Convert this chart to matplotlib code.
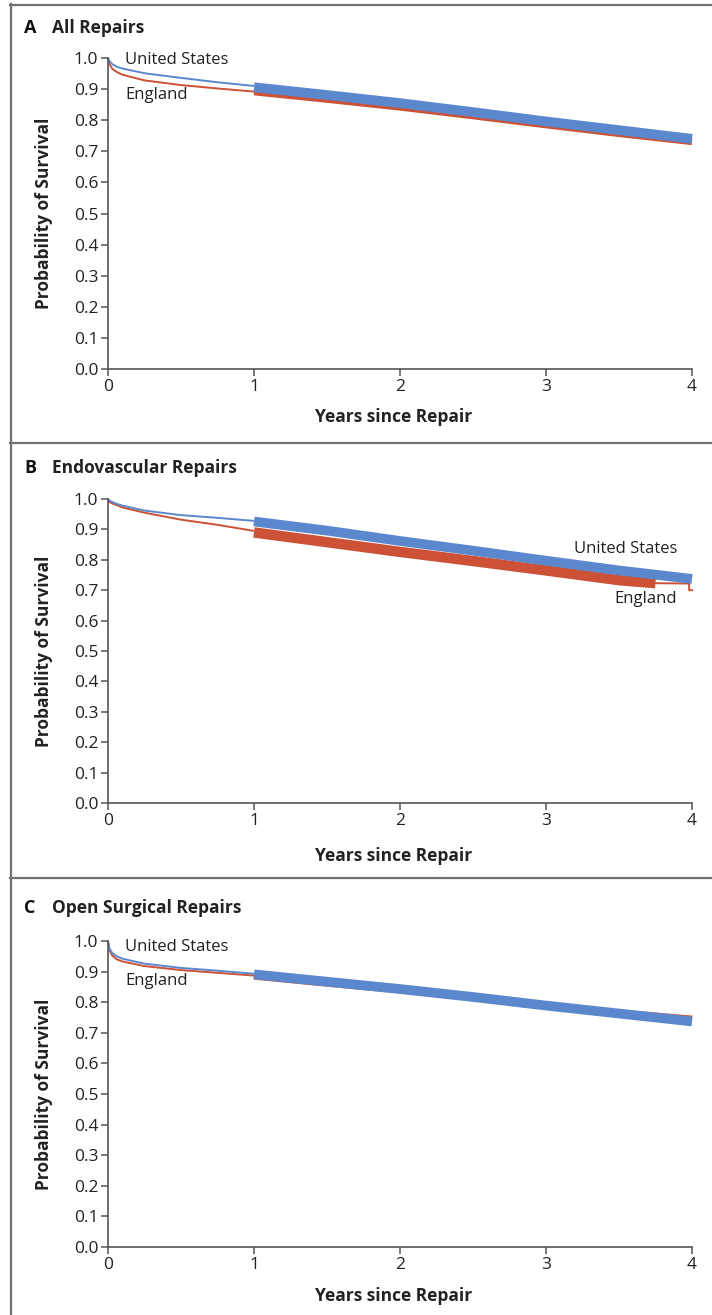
import numpy as np
import matplotlib.pyplot as plt
from matplotlib.lines import Line2D

# survival curves: thin part (0-1 yr), thick censored part (1-4 yr)
t_thin = [0, 0.01, 0.03, 0.06, 0.1, 0.25, 0.5, 0.75, 1.0]
t_thick = [1, 1.5, 2, 2.5, 3, 3.5, 4]

a_us_thin = [1.0, 0.99, 0.98, 0.972, 0.966, 0.951, 0.936, 0.922, 0.91]
a_en_thin = [1.0, 0.98, 0.965, 0.955, 0.946, 0.928, 0.913, 0.902, 0.892]
a_us_thick = [0.906, 0.881, 0.855, 0.826, 0.796, 0.768, 0.74]
a_en_thick = [0.891, 0.867, 0.842, 0.814, 0.785, 0.757, 0.731]

b_us_thin = [1.0, 0.995, 0.99, 0.984, 0.978, 0.962, 0.947, 0.938, 0.928]
b_en_thin = [1.0, 0.99, 0.985, 0.98, 0.972, 0.955, 0.932, 0.915, 0.895]
b_us_thick = [0.926, 0.896, 0.862, 0.83, 0.797, 0.765, 0.737]
b_en_thick_t = [1, 1.5, 2, 2.5, 3, 3.5, 3.75]
b_en_thick = [0.89, 0.858, 0.826, 0.796, 0.765, 0.733, 0.723]
b_en_tail_t = [3.75, 3.98, 3.98, 4.0]
b_en_tail = [0.723, 0.722, 0.70, 0.70]

c_us_thin = [1.0, 0.975, 0.96, 0.95, 0.942, 0.926, 0.912, 0.903, 0.893]
c_en_thin = [1.0, 0.97, 0.952, 0.94, 0.933, 0.918, 0.905, 0.896, 0.887]
c_us_thick = [0.891, 0.867, 0.843, 0.817, 0.789, 0.763, 0.737]
c_en_thick = [0.885, 0.862, 0.84, 0.815, 0.787, 0.765, 0.745]

blue = '#5b88cc'
red = '#cc5136'
gray = '#555555'
frame = '#707070'

narrow = ['Liberation Sans Narrow', 'Open Sans', 'DejaVu Sans']
plt.rcParams['font.family'] = ['Open Sans', 'DejaVu Sans']

W, H = 712, 1315
fig = plt.figure(figsize=(W / 100, H / 100), dpi=100)


def fx(px):
    return px / W


def fy(py):
    return 1 - py / H


# frame lines
for y in [5, 443, 878]:
    fig.add_artist(Line2D([fx(10), 1], [fy(y), fy(y)], color=frame, lw=1.6))
fig.add_artist(Line2D([fx(10.5), fx(10.5)], [fy(4), 0], color=frame, lw=1.6))

panels = [
    ('A', 'All Repairs', 58, 369, 28, 417, 5.0,
     (t_thin, a_us_thin, a_en_thin, t_thick, a_us_thick, t_thick, a_en_thick, None, None)),
    ('B', 'Endovascular Repairs', 499, 803, 468, 856, 7.5,
     (t_thin, b_us_thin, b_en_thin, t_thick, b_us_thick, b_en_thick_t, b_en_thick, b_en_tail_t, b_en_tail)),
    ('C', 'Open Surgical Repairs', 941, 1247, 908, 1296, 5.0,
     (t_thin, c_us_thin, c_en_thin, t_thick, c_us_thick, t_thick, c_en_thick, None, None)),
]

axes = []
for letter, title, ytop, ybot, ytitle, yxlab, red_lw, d in panels:
    ax = fig.add_axes([fx(108), fy(ybot), fx(692) - fx(108), fy(ytop) - fy(ybot)])
    axes.append(ax)
    tt, us_thin, en_thin, tk_us, us_thick, tk_en, en_thick, tail_t, tail = d
    ax.plot(tt, en_thin, color=red, lw=1.4, solid_capstyle='butt')
    ax.plot(tk_en, en_thick, color=red, lw=red_lw, solid_capstyle='butt')
    if tail_t is not None:
        ax.plot(tail_t, tail, color=red, lw=1.4)
    ax.plot(tt, us_thin, color=blue, lw=1.4, solid_capstyle='butt')
    ax.plot(tk_us, us_thick, color=blue, lw=7, solid_capstyle='butt')

    ax.set_xlim(0, 4)
    ax.set_ylim(0, 1.0)
    ax.set_xticks([0, 1, 2, 3, 4])
    ax.set_yticks(np.arange(0, 1.01, 0.1))
    ax.set_yticklabels(['%.1f' % v for v in np.arange(0, 1.01, 0.1)])
    for s in ['top', 'right']:
        ax.spines[s].set_visible(False)
    for s in ['left', 'bottom']:
        ax.spines[s].set_color(gray)
        ax.spines[s].set_linewidth(1.2)
    ax.tick_params(direction='out', length=5, width=1.1, color=gray,
                   labelsize=12.5, labelcolor='#222222', pad=2)
    for ln in ax.lines:
        ln.set_clip_on(False)

    fig.text(fx(24), fy(ytitle), letter, fontsize=13, fontweight='bold',
             family=narrow, va='center', ha='left', color='#111111')
    fig.text(fx(52), fy(ytitle), title, fontsize=12.5, fontweight='bold',
             family=narrow, va='center', ha='left', color='#222222')
    fig.text(fx(394), fy(yxlab), 'Years since Repair', fontsize=12.5,
             fontweight='bold', family=narrow, ha='center', va='center', color='#222222')
    fig.text(fx(44), (fy(ytop) + fy(ybot)) / 2, 'Probability of Survival',
             fontsize=12.5, fontweight='bold', family=narrow, rotation=90,
             ha='center', va='center', color='#222222')

# curve labels
lab = dict(fontsize=12, va='center', color='#222222')
fig.text(fx(125), fy(60), 'United States', ha='left', **lab)
fig.text(fx(125), fy(95), 'England', ha='left', **lab)
fig.text(fx(677), fy(549), 'United States', ha='right', **lab)
fig.text(fx(677), fy(599), 'England', ha='right', **lab)
fig.text(fx(125), fy(947), 'United States', ha='left', **lab)
fig.text(fx(125), fy(981), 'England', ha='left', **lab)

fig.savefig('out.png', dpi=100, facecolor='white')
